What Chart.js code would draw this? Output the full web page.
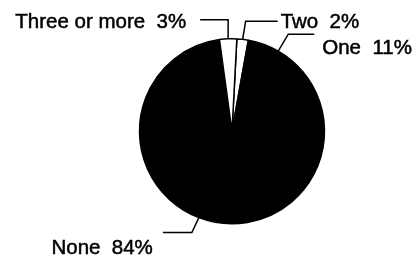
<!DOCTYPE html>
<html>
<head>
<meta charset="utf-8">
<script src="https://cdn.jsdelivr.net/npm/chart.js@4"></script>
<style>
  html, body { margin: 0; padding: 0; background: #fff; }
  #wrap { width: 420px; height: 258px; }
</style>
</head>
<body>
<div id="wrap"><canvas id="pieChart" width="420" height="258"></canvas></div>
<script>
// data (clockwise from just right of 12 o'clock)
const categories = ['Two', 'One', 'None', 'Three or more'];
const percents = [2, 11, 84, 3];

// fill of each slice
const sliceColors = ['#ffffff', '#000000', '#000000', '#ffffff'];

// leader line layout, relative to the slice's outer midpoint
// elbow = bend point, end = line end, text = text anchor from line end
const leaderLayout = [
    { elbow: [3, -18], end: [35, -18], text: [3, 7], align: 'left' },
    { elbow: [10, -17], end: [36, -17], text: [8, 20], align: 'left' },
    { elbow: [-7, 15], end: [-36, 15], text: [-10, 21], align: 'right' },
    { elbow: [0, -19], end: [-28, -19], text: [-14, 8], align: 'right' }
];

const FONT = '20.5px "Liberation Sans", Arial, Helvetica, sans-serif';

// plugin that draws the labels with their leader lines
const leaderLabels = {
    id: 'leaderLabels',
    afterDraw(chart) {
        const ctx = chart.ctx;
        const arcs = chart.getDatasetMeta(0).data;
        ctx.save();
        ctx.strokeStyle = '#000';
        ctx.fillStyle = '#000';
        ctx.font = FONT;
        ctx.textBaseline = 'alphabetic';
        arcs.forEach((arc, i) => {
            const p = arc.getProps(['x', 'y', 'startAngle', 'endAngle', 'outerRadius'], true);
            const mid = (p.startAngle + p.endAngle) / 2;
            const ax = p.x + Math.cos(mid) * p.outerRadius;
            const ay = p.y + Math.sin(mid) * p.outerRadius;
            const lay = leaderLayout[i];
            const ex = ax + lay.end[0];
            const ey = ay + lay.end[1];

            ctx.lineWidth = 1.5;
            ctx.beginPath();
            ctx.moveTo(ax, ay);
            ctx.lineTo(ax + lay.elbow[0], ay + lay.elbow[1]);
            ctx.lineTo(ex, ey);
            ctx.stroke();

            // slightly heavier glyphs, like the printed original
            const text = `${categories[i]}  ${percents[i]}%`;
            const tx = ex + lay.text[0];
            const ty = ey + lay.text[1];
            ctx.textAlign = lay.align;
            ctx.fillText(text, tx, ty);
            ctx.lineWidth = 0.5;
            ctx.strokeText(text, tx, ty);
        });
        ctx.restore();
    }
};

const ctx = document.getElementById('pieChart').getContext('2d');
new Chart(ctx, {
    type: 'pie',
    data: {
        labels: categories,
        datasets: [{
            data: percents,
            backgroundColor: sliceColors,
            borderColor: '#000000',
            borderWidth: 1.5
        }]
    },
    options: {
        responsive: false,
        animation: false,
        rotation: 3,
        layout: { padding: { left: 44, right: 0, top: 38, bottom: 33.5 } },
        plugins: {
            legend: { display: false },
            tooltip: { enabled: false }
        }
    },
    plugins: [leaderLabels]
});
</script>
</body>
</html>
